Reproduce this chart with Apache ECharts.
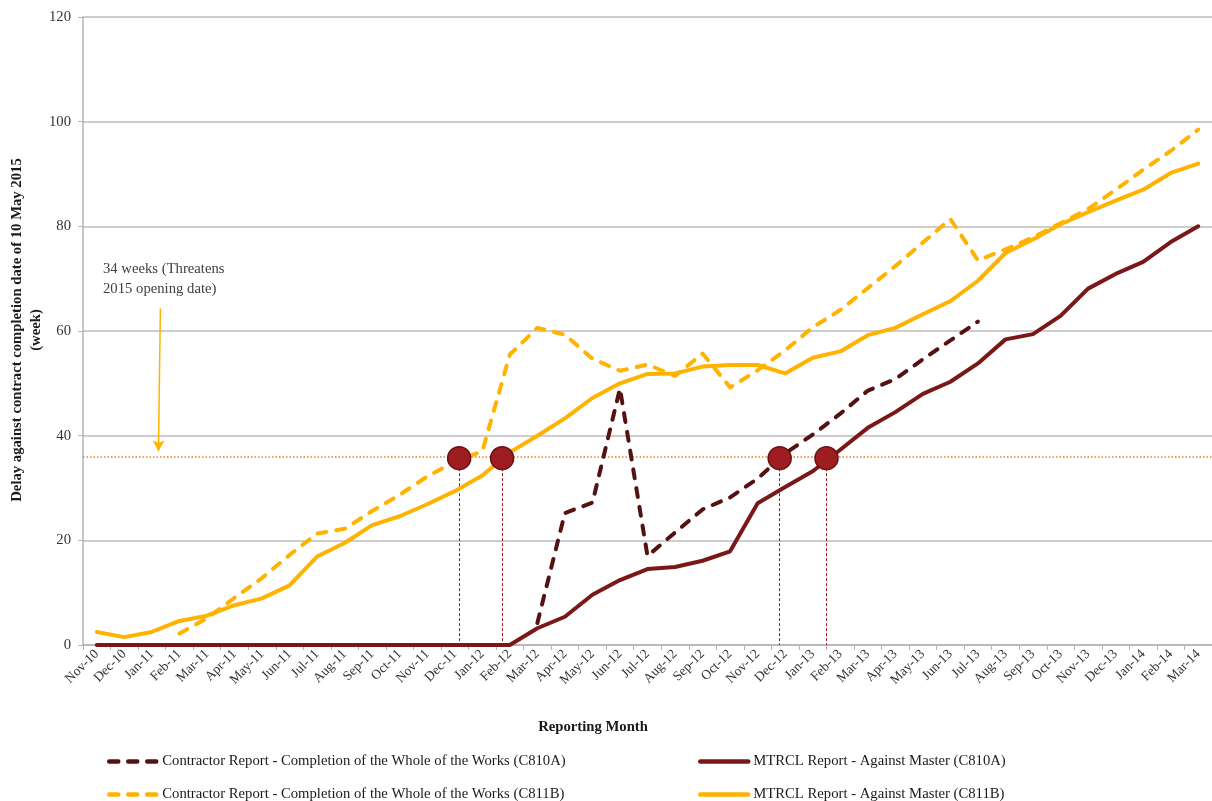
<!DOCTYPE html>
<html>
<head>
<meta charset="utf-8">
<title>Delay against contract completion date</title>
<script src="https://cdn.jsdelivr.net/npm/echarts@6/dist/echarts.min.js"></script>
<style>
  html, body { margin: 0; padding: 0; background: #fff; }
  #main { width: 1212px; height: 801px; }
</style>
</head>
<body>
<div id="main"></div>
<script>
// reporting months (x categories)
var months = ["Nov-10", "Dec-10", "Jan-11", "Feb-11", "Mar-11", "Apr-11", "May-11", "Jun-11",
  "Jul-11", "Aug-11", "Sep-11", "Oct-11", "Nov-11", "Dec-11", "Jan-12", "Feb-12", "Mar-12",
  "Apr-12", "May-12", "Jun-12", "Jul-12", "Aug-12", "Sep-12", "Oct-12", "Nov-12", "Dec-12",
  "Jan-13", "Feb-13", "Mar-13", "Apr-13", "May-13", "Jun-13", "Jul-13", "Aug-13", "Sep-13",
  "Oct-13", "Nov-13", "Dec-13", "Jan-14", "Feb-14", "Mar-14"];

// delay in weeks
var contractorC810A = [null, null, null, null, null, null, null, null, null, null, null, null,
  null, null, null, null, 4.2, 25.2, 27.2, 49, 17, 21.5, 25.9, 28.2, 31.8, 36.6, 40.2, 44.2,
  48.6, 50.8, 54.6, 58.2, 61.8, null, null, null, null, null, null, null, null];
var mtrclC810A = [0, 0, 0, 0, 0, 0, 0, 0, 0, 0, 0, 0, 0, 0, 0, 0, 3.2, 5.4, 9.6, 12.4, 14.5,
  14.9, 16.1, 17.9, 27.1, 30.2, 33.2, 37.3, 41.5, 44.5, 48, 50.3, 53.8, 58.4, 59.4, 62.9, 68.1,
  70.9, 73.2, 77, 80];
var contractorC811B = [null, null, null, 2.2, 5.1, 9, 12.8, 17.2, 21.3, 22.2, 25.6, 28.7, 32.2,
  35, 37, 55.5, 60.6, 59.3, 54.7, 52.4, 53.6, 51.4, 55.7, 49.2, 52.5, 56.3, 60.7, 64, 68.2, 72.4,
  76.9, 81.4, 73.5, 75.6, 77.9, 80.6, 83.3, 87, 90.8, 94.4, 98.5];
var mtrclC811B = [2.5, 1.5, 2.5, 4.6, 5.6, 7.6, 8.9, 11.4, 16.9, 19.5, 22.9, 24.6, 26.9, 29.4,
  32.4, 36.8, 40, 43.3, 47.2, 50, 51.8, 51.9, 53.2, 53.5, 53.5, 51.9, 54.9, 56.1, 59.2, 60.6,
  63.2, 65.7, 69.6, 74.9, 77.5, 80.4, 82.7, 84.9, 87, 90.2, 92];

// 34 weeks threshold and where each line crosses it (month index, fractional)
var threshold = 36;
var crossLevel = 35.7;
var crossAt = [13.16, 14.72, 24.8, 26.5];

var names = [
  "Contractor Report - Completion of the Whole of the Works (C810A)",
  "MTRCL Report - Against Master (C810A)",
  "Contractor Report - Completion of the Whole of the Works (C811B)",
  "MTRCL Report - Against Master (C811B)"
];

var serif = "'Liberation Serif', 'DejaVu Serif', serif";
var darkDash = "#541212";
var darkRed = "#7a1818";
var gold = "#ffb300";

var chart = echarts.init(document.getElementById("main"));

function legendAt(name, left, top) {
  return {
    data: [name],
    left: left,
    top: top,
    orient: "horizontal",
    padding: 0,
    itemWidth: 48,
    itemHeight: 2,
    selectedMode: false,
    itemStyle: { opacity: 0 },
    lineStyle: { width: 4.5 },
    textStyle: { fontFamily: serif, fontSize: 14.7, color: "#1a1a1a" }
  };
}

function lineSeries(name, data, color, dashed) {
  return {
    name: name,
    type: "line",
    data: data,
    symbol: "none",
    connectNulls: false,
    lineStyle: {
      color: color,
      width: 4,
      type: dashed ? [9, 10] : "solid",
      cap: "round",
      join: "round"
    },
    itemStyle: { color: color }
  };
}

var markerData = crossAt.map(function (x) { return [x, crossLevel]; });
var dropLines = crossAt.map(function (x) {
  return [
    { coord: [x, crossLevel], lineStyle: { color: "#a01b1e", width: 1, type: [3, 2] } },
    { coord: [x, 0] }
  ];
});

var option = {
  animation: false,
  backgroundColor: "#fff",
  grid: { left: 83, right: -1, top: 17, bottom: 156 },
  legend: [
    legendAt(names[0], 107, 754),
    legendAt(names[1], 698, 754),
    legendAt(names[2], 107, 787),
    legendAt(names[3], 698, 787)
  ],
  xAxis: [
    {
      type: "category",
      data: months,
      boundaryGap: true,
      axisLine: { onZero: false, lineStyle: { color: "#b3b3b3", width: 1.5 } },
      axisTick: { show: true, interval: 0, length: 5, lineStyle: { color: "#b3b3b3" } },
      axisLabel: {
        interval: 0,
        rotate: 45,
        margin: 7,
        fontFamily: serif,
        fontSize: 13.5,
        color: "#333"
      },
      splitLine: { show: false }
    },
    {
      type: "value",
      min: -0.5,
      max: 40.5,
      show: false
    }
  ],
  yAxis: {
    type: "value",
    min: 0,
    max: 120,
    interval: 20,
    axisLine: { show: true, onZero: false, lineStyle: { color: "#b3b3b3", width: 1.5 } },
    axisTick: { show: true, length: 5, lineStyle: { color: "#b3b3b3" } },
    axisLabel: { margin: 12, fontFamily: serif, fontSize: 14.7, color: "#333" },
    splitLine: { lineStyle: { color: "#bdbdbd", width: 1.5 } }
  },
  graphic: [
    {
      type: "text",
      left: 103,
      top: 259,
      style: {
        text: "34 weeks (Threatens\n2015 opening date)",
        font: "14.7px " + serif,
        lineHeight: 20,
        fill: "#404040"
      }
    },
    {
      type: "text",
      x: 593,
      y: 727,
      style: {
        text: "Reporting Month",
        font: "bold 14.7px " + serif,
        fill: "#1a1a1a",
        align: "center",
        verticalAlign: "middle"
      }
    },
    {
      type: "text",
      x: 26.5,
      y: 330,
      rotation: Math.PI / 2,
      style: {
        text: "Delay against contract completion date of 10 May 2015\n(week)",
        font: "bold 14.7px " + serif,
        lineHeight: 19.3,
        fill: "#1a1a1a",
        align: "center",
        verticalAlign: "middle"
      }
    }
  ],
  series: [
    lineSeries(names[1], mtrclC810A, darkRed, false),
    lineSeries(names[3], mtrclC811B, gold, false),
    lineSeries(names[2], contractorC811B, gold, true),
    lineSeries(names[0], contractorC810A, darkDash, true),
    {
      // annotation: threshold line, arrow, crossing markers and drop lines
      type: "scatter",
      xAxisIndex: 1,
      data: markerData,
      symbolSize: 23,
      z: 10,
      itemStyle: { color: "#9e1d20", borderColor: "#6a1212", borderWidth: 1.5, opacity: 1 },
      silent: true,
      markLine: {
        silent: true,
        symbol: "none",
        label: { show: false },
        z: 3,
        data: [
          { yAxis: threshold, lineStyle: { color: "#ee7d22", width: 1.5, type: [1.5, 2] } },
          [
            { coord: [2.31, 64.3], symbol: "none", lineStyle: { color: gold, width: 1.5, type: "solid" } },
            { coord: [2.24, 37.0], symbol: "arrow", symbolSize: [9, 11] }
          ]
        ].concat(dropLines)
      }
    }
  ]
};

chart.setOption(option);
</script>
</body>
</html>
